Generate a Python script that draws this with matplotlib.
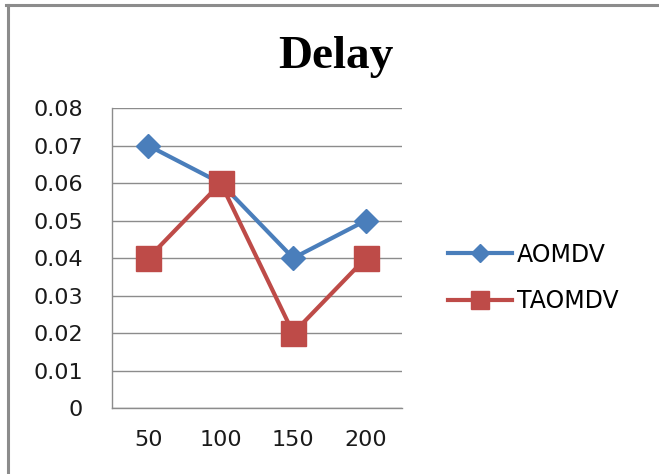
import matplotlib
matplotlib.use("Agg")
import matplotlib.pyplot as plt
from matplotlib.lines import Line2D

# node counts and measured end-to-end delay
nodes = ["50", "100", "150", "200"]
aomdv = [0.07, 0.06, 0.04, 0.05]
taomdv = [0.04, 0.06, 0.02, 0.04]
y_ticks = [0, 0.01, 0.02, 0.03, 0.04, 0.05, 0.06, 0.07, 0.08]

BLUE = "#4A7EBB"
RED = "#BE4B48"
GRID = "#8C8C8C"

plt.rcParams["font.family"] = ["DejaVu Sans"]

fig = plt.figure(figsize=(6.59, 4.74), dpi=100)
ax = fig.add_axes([0.170, 0.139, 0.440, 0.633])

x = range(len(nodes))
ax.plot(x, aomdv, color=BLUE, lw=3, marker="D", markersize=12.5,
        markeredgecolor=BLUE, zorder=3)
ax.plot(x, taomdv, color=RED, lw=3, marker="s", markersize=18,
        markeredgecolor=RED, zorder=4)

ax.set_xlim(-0.5, len(nodes) - 0.5)
ax.set_ylim(0, 0.08)
ax.set_yticks(y_ticks)
ax.set_yticklabels([("%g" % v) if v else "0" for v in y_ticks])
ax.set_xticks(list(x))
ax.set_xticklabels(nodes)
ax.tick_params(axis="both", length=0, labelsize=16, colors="#1a1a1a")
ax.tick_params(axis="y", pad=21)
ax.tick_params(axis="x", pad=16)

ax.grid(axis="y", color=GRID, lw=1)
ax.set_axisbelow(True)
for side in ("top", "right"):
    ax.spines[side].set_visible(False)
for side in ("left", "bottom"):
    ax.spines[side].set_color(GRID)
    ax.spines[side].set_linewidth(1)

fig.text(0.51, 0.879, "Delay", ha="center", va="center",
         fontsize=34, fontweight="bold", family="Liberation Serif")

handles = [
    Line2D([], [], color=BLUE, lw=3, marker="D", markersize=9),
    Line2D([], [], color=RED, lw=3, marker="s", markersize=13),
]
fig.legend(handles, ["AOMDV", "TAOMDV"], loc="center left",
           bbox_to_anchor=(0.680, 0.414), frameon=False, fontsize=17,
           handlelength=2.7, handletextpad=0.2, labelspacing=0.95,
           borderpad=0, borderaxespad=0)

# outer chart border (top and left edges only)
fig.add_artist(Line2D([0.009, 1.0], [0.990, 0.990], color="#8C8C8C",
                      lw=2.2, transform=fig.transFigure))
fig.add_artist(Line2D([0.012, 0.012], [0.0, 0.990], color="#8C8C8C",
                      lw=2.2, transform=fig.transFigure))

fig.savefig("out.png", dpi=100)
